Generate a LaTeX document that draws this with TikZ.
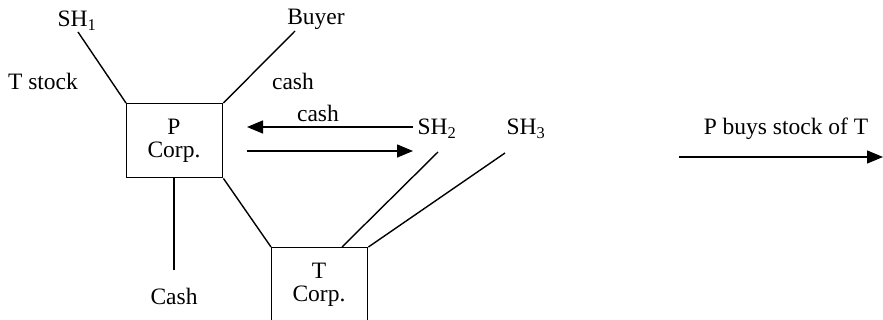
\documentclass[tikz,border=0pt]{standalone}
\usepackage{fontspec}
\setmainfont{Liberation Serif}
\usetikzlibrary{arrows.meta}
\begin{document}
\begin{tikzpicture}[x=1pt,y=-1pt,
  every node/.style={font=\fontsize{23.5}{26}\selectfont, inner sep=0pt},
  ln/.style={line width=1.4pt},
  arr/.style={line width=1.4pt, -{Triangle[length=16pt,width=13pt]}},
  corp/.style={draw, line width=1.4pt, align=center, anchor=north west}]
\useasboundingbox (0,0) rectangle (883,320);
\clip (0,0) rectangle (883,320);
% boxes
\node[corp, minimum width=96pt, minimum height=74pt] (P) at (126,103) {};
\node[align=center] (Ptxt) at (174,141) {P\\[-3pt]Corp.};
\node[corp, minimum width=96pt, minimum height=100pt] (T) at (271,247) {};
\node[align=center] (Ttxt) at (319,285) {T\\[-3pt]Corp.};
% labels
\node (SH1) at (77,21) {SH\textsubscript{1}};
\node (Buyer) at (316,19) {Buyer};
\node (Tstock) at (43,81) {T stock};
\node (cash1) at (293,81) {cash};
\node (cash2) at (318,113) {cash};
\node (SH2) at (437,129) {SH\textsubscript{2}};
\node (SH3) at (526,129) {SH\textsubscript{3}};
\node (Cash) at (174,296) {Cash};
\node (buys) at (786,129) {P buys stock of T};
% coordinates
\coordinate (a1) at (78,32);
\coordinate (a2) at (295,31);
\coordinate (a3) at (174,270);
\coordinate (a4) at (438,152);
\coordinate (a5) at (505,153);
\coordinate (a6) at (342,247);
\coordinate (r1) at (413,127);
\coordinate (r2) at (247,127);
\coordinate (r3) at (247,151);
\coordinate (r4) at (413,151);
\coordinate (b1) at (679,157);
\coordinate (b2) at (883,157);
% connectors
\draw[ln] (a1) -- (P.north west);
\draw[ln] (a2) -- (P.north east);
\draw[ln] (P.south east) -- (T.north west);
\draw[ln] (P.south -| a3) -- (a3);
\draw[ln] (a4) -- (a6);
\draw[ln] (a5) -- (T.north east);
\draw[arr] (r1) -- (r2);
\draw[arr] (r3) -- (r4);
\draw[arr] (b1) -- (b2);
\end{tikzpicture}
\end{document}
